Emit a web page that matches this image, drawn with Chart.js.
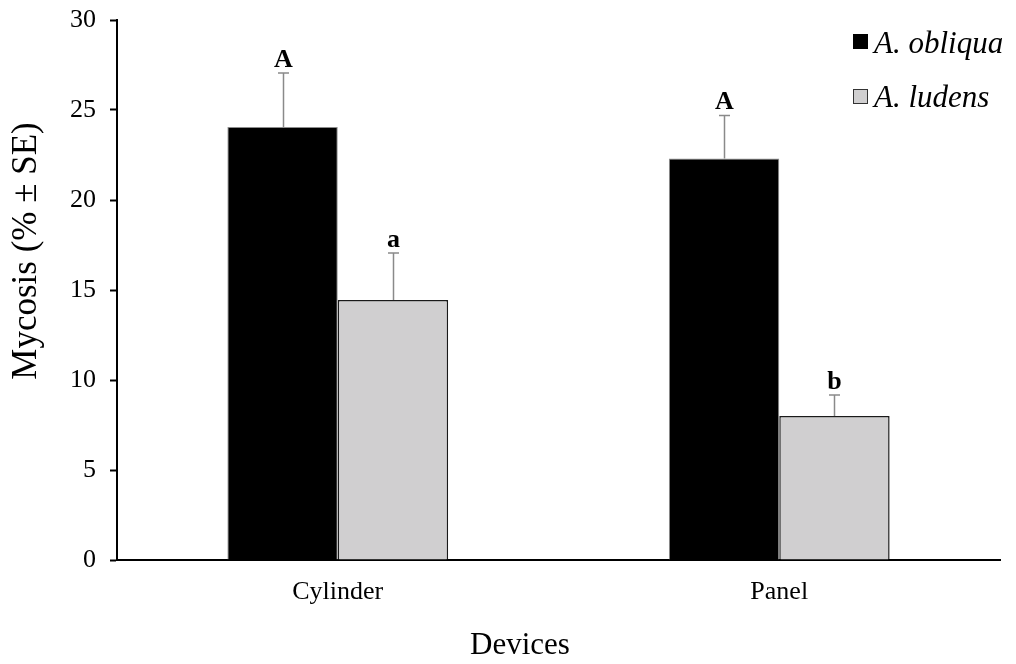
<!DOCTYPE html>
<html>
<head>
<meta charset="utf-8">
<script src="https://cdn.jsdelivr.net/npm/chart.js@4/dist/chart.umd.min.js"></script>
<style>
  html, body { margin: 0; padding: 0; background: #fff; }
  #wrap { width: 1016px; height: 664px; }
</style>
</head>
<body>
<div id="wrap"><canvas id="c" width="1016" height="664"></canvas></div>
<script>
// Mycosis by device type for two fruit fly species
const devices = ['Cylinder', 'Panel'];
const speciesNames = ['A. obliqua', 'A. ludens'];
const obliquaMean = [24.05, 22.3];
const obliquaSE = [3.0, 2.4];
const obliquaLetters = ['A', 'A'];
const ludensMean = [14.45, 8.0];
const ludensSE = [2.6, 1.17];
const ludensLetters = ['a', 'b'];
const yTicks = [0, 5, 10, 15, 20, 25, 30];

const SERIF = '"Liberation Serif", "Times New Roman", serif';

const seriesSE = [obliquaSE, ludensSE];
const seriesLetters = [obliquaLetters, ludensLetters];

// Error bars (upper half only) and significance letters above them
const errorBars = {
  id: 'errorBars',
  afterDatasetsDraw(chart) {
    const ctx = chart.ctx;
    const y = chart.scales.y;
    chart.data.datasets.forEach((ds, di) => {
      const meta = chart.getDatasetMeta(di);
      meta.data.forEach((bar, i) => {
        const top = y.getPixelForValue(ds.data[i] + seriesSE[di][i]);
        const base = y.getPixelForValue(ds.data[i]);
        const x = Math.round(bar.x) + 0.5;
        ctx.save();
        ctx.strokeStyle = '#8a8a8a';
        ctx.lineWidth = 1.5;
        ctx.beginPath();
        ctx.moveTo(x, base);
        ctx.lineTo(x, top);
        ctx.moveTo(x - 5.5, top);
        ctx.lineTo(x + 5.5, top);
        ctx.stroke();
        ctx.fillStyle = '#000';
        ctx.font = 'bold 26px ' + SERIF;
        ctx.textAlign = 'center';
        ctx.textBaseline = 'alphabetic';
        ctx.fillText(seriesLetters[di][i], x, top - 6);
        ctx.restore();
      });
    });
  }
};

// Legend in the upper right corner and both axis titles
const decorations = {
  id: 'decorations',
  afterDraw(chart) {
    const ctx = chart.ctx;
    ctx.save();
    const rows = [{ sq: 34, base: 53 }, { sq: 89, base: 107 }];
    chart.data.datasets.forEach((ds, di) => {
      const r = rows[di];
      ctx.fillStyle = ds.backgroundColor;
      ctx.fillRect(853, r.sq, 15, 15);
      ctx.strokeStyle = di === 0 ? '#000' : '#333';
      ctx.lineWidth = 1;
      ctx.strokeRect(853.5, r.sq + 0.5, 14, 14);
      ctx.fillStyle = '#000';
      ctx.font = 'italic 31px ' + SERIF;
      ctx.textAlign = 'left';
      ctx.textBaseline = 'alphabetic';
      ctx.fillText(ds.label, 874, r.base);
    });

    ctx.font = '31px ' + SERIF;
    ctx.fillStyle = '#000';
    ctx.textAlign = 'center';
    ctx.textBaseline = 'alphabetic';
    ctx.fillText('Devices', 520, 654);

    ctx.font = '35px ' + SERIF;
    ctx.translate(36, 251);
    ctx.rotate(-Math.PI / 2);
    ctx.fillText('Mycosis (% \u00B1 SE)', 0, 0);
    ctx.restore();
  }
};

new Chart(document.getElementById('c'), {
  type: 'bar',
  data: {
    labels: devices,
    datasets: [
      {
        label: speciesNames[0],
        data: obliquaMean,
        backgroundColor: '#000000',
        borderColor: '#8c8c8c',
        borderWidth: 1
      },
      {
        label: speciesNames[1],
        data: ludensMean,
        backgroundColor: '#d0cfd0',
        borderColor: '#1a1a1a',
        borderWidth: 1.5
      }
    ]
  },
  options: {
    responsive: false,
    animation: false,
    devicePixelRatio: 1,
    layout: { padding: { top: 20, right: 16, left: 0, bottom: 0 } },
    datasets: { bar: { categoryPercentage: 0.5, barPercentage: 1.0 } },
    plugins: {
      legend: { display: false },
      tooltip: { enabled: false }
    },
    scales: {
      x: {
        grid: { display: false, drawTicks: false },
        border: { display: true, color: '#000', width: 2 },
        ticks: {
          color: '#000',
          font: { family: SERIF, size: 26 },
          padding: 17
        },
        afterFit(scale) {
          scale.height = 104;
          scale.paddingLeft = 0;
          scale.paddingRight = 0;
        }
      },
      y: {
        min: 0,
        max: 30,
        afterBuildTicks(scale) { scale.ticks = yTicks.map(v => ({ value: v })); },
        grid: {
          drawOnChartArea: false,
          drawTicks: true,
          tickLength: 7,
          tickWidth: 2,
          tickColor: '#000'
        },
        border: { display: true, color: '#000', width: 2 },
        ticks: {
          color: '#000',
          font: { family: SERIF, size: 26 },
          padding: 14
        },
        afterFit(scale) {
          scale.width = 117;
          scale.paddingTop = 0;
          scale.paddingBottom = 0;
        }
      }
    }
  },
  plugins: [errorBars, decorations]
});
</script>
</body>
</html>
